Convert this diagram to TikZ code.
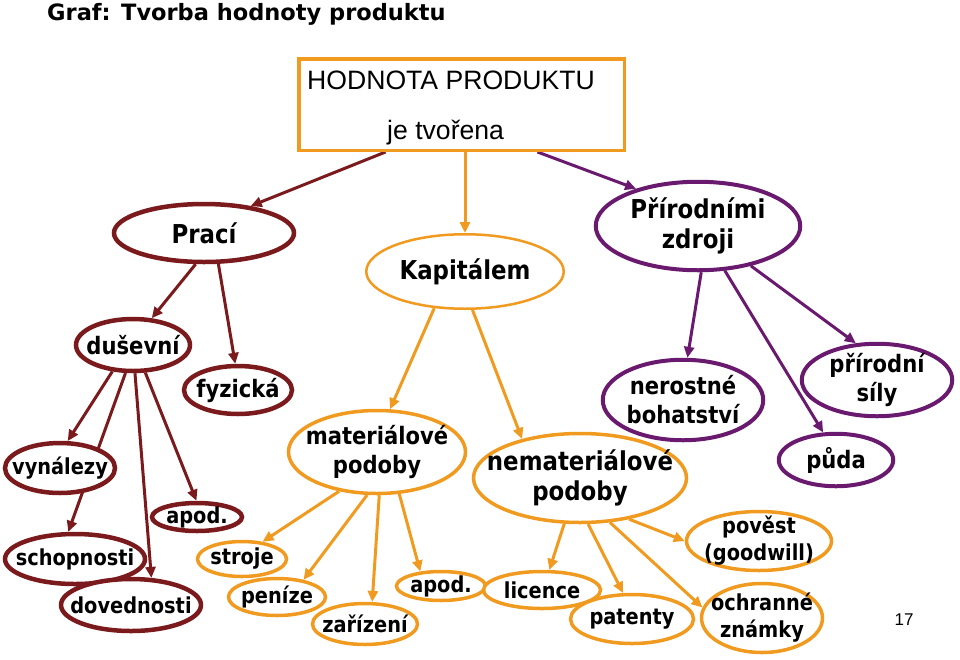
\documentclass[tikz,border=0pt]{standalone}
\usepackage{fontspec}
\setmainfont{DejaVu Sans}
\newfontfamily\nodefont{DejaVu Sans}[FakeStretch=0.88]
\newfontfamily\arialfont{Liberation Sans}
\usetikzlibrary{shapes.geometric,arrows.meta,backgrounds}
\definecolor{maroon}{RGB}{122,26,28}
\definecolor{oran}{RGB}{240,154,32}
\definecolor{purp}{RGB}{106,26,110}
\tikzset{
  ell/.style={ellipse, fill=white, inner sep=0pt},
  mar/.style={ell, draw=maroon, line width=4.5pt},
  ora/.style={ell, draw=oran, line width=3.5pt},
  pur/.style={ell, draw=purp, line width=4pt},
  lbl/.style={align=center, text=black, inner sep=0pt},
  fA/.style={lbl, font=\nodefont\bfseries\fontsize{26}{30}\selectfont},
  fB/.style={lbl, font=\nodefont\bfseries\fontsize{24}{29}\selectfont},
  fC/.style={lbl, font=\nodefont\bfseries\fontsize{22}{27}\selectfont},
  arr/.style={line width=3pt, -{Triangle[length=11pt,width=10pt]}},
  marr/.style={arr, draw=maroon, fill=maroon},
  oarr/.style={arr, draw=oran, fill=oran},
  parr/.style={arr, draw=purp, fill=purp}
}
\begin{document}
\begin{tikzpicture}[x=1pt,y=-1pt]
\useasboundingbox (0,0) rectangle (960,659);
% title
\node[anchor=base west, inner sep=0pt, font=\bfseries\fontsize{22.5}{27}\selectfont] (title) at (47,20) {Graf: Tvorba hodnoty produktu};
% box
\node[draw=oran, line width=3.5pt, fill=white, minimum width=325.5pt, minimum height=91.5pt, inner sep=0pt] (box) at (461.5,104.5) {};
\node[anchor=base west, inner sep=0pt, font=\arialfont\fontsize{26.6}{30}\selectfont] (boxt1) at (307,89) {HODNOTA PRODUKTU};
\node[anchor=base west, inner sep=0pt, font=\arialfont\fontsize{26.6}{30}\selectfont] (boxt2) at (387,139) {je tvořena};
% level 1
\node[mar, minimum width=180pt, minimum height=58pt, label={[fA]center:Prací}] (praci) at (204,233) {};
\node[ell, draw=oran, line width=2.5pt, minimum width=197.5pt, minimum height=74.5pt, label={[fA]center:Kapitálem}] (kap) at (465,271.5) {};
\node[pur, minimum width=204.5pt, minimum height=88.5pt, label={[fA]center:{Přírodními\\zdroji}}] (priz) at (698,226) {};
% Prací children
\node[mar, minimum width=114pt, minimum height=52pt, label={[fB]center:duševní}] (dus) at (133,345) {};
\node[mar, minimum width=108pt, minimum height=48pt, label={[fB]center:fyzická}] (fyz) at (238,390) {};
\node[mar, minimum width=110pt, minimum height=50pt, label={[fC]center:vynálezy}] (vyn) at (60,468) {};
\node[mar, minimum width=90pt, minimum height=28pt, label={[fC]center:apod.}] (apoda) at (197,517) {};
\node[mar, minimum width=140pt, minimum height=50pt, label={[fC]center:schopnosti}] (schop) at (75,559) {};
\node[mar, minimum width=140pt, minimum height=52pt, label={[fC]center:dovednosti}] (doved) at (131,605) {};
% Kapitálem children
\node[ora, minimum width=177pt, minimum height=83pt, label={[fB]center:{materiálové\\podoby}}] (mat) at (377,452) {};
\node[ora, minimum width=89pt, minimum height=35pt, label={[fC]center:stroje}] (stroje) at (242,559) {};
\node[ora, minimum width=97pt, minimum height=37pt, label={[fC]center:peníze}] (penize) at (277,597) {};
\node[ora, minimum width=105pt, minimum height=41pt, label={[fC]center:zařízení}] (zar) at (365,624) {};
\node[ora, minimum width=89pt, minimum height=29pt, label={[fC]center:apod.}] (apodb) at (441,586) {};
\node[ora, minimum width=213pt, minimum height=89pt, label={[fA]center:{nemateriálové\\podoby}}] (nemat) at (580,478) {};
\node[ora, minimum width=117pt, minimum height=37pt, label={[fC]center:licence}] (lic) at (542,590) {};
\node[ora, minimum width=123pt, minimum height=49pt, label={[fC]center:patenty}] (pat) at (632,619) {};
\node[ora, minimum width=145pt, minimum height=59pt, label={[fC]center:{pověst\\(goodwill)}}] (pov) at (759,541) {};
\node[ora, minimum width=121pt, minimum height=69pt, label={[fC]center:{ochranné\\známky}}] (ochr) at (762,618) {};
% Přírodními children
\node[pur, minimum width=160.5pt, minimum height=80.5pt, label={[fB]center:{nerostné\\bohatství}}] (ner) at (683,400) {};
\node[pur, minimum width=150.5pt, minimum height=72.5pt, label={[fB]center:{přírodní\\síly}}] (sily) at (877,380) {};
\node[pur, minimum width=114.5pt, minimum height=52.5pt, label={[fB]center:půda}] (puda) at (836,460) {};
% page number
\node[inner sep=0pt, font=\arialfont\fontsize{17}{20}\selectfont] (pnum) at (904,620) {17};
% connectors
\begin{scope}[on background layer]
\draw[marr] ([xshift=-76pt]box.south) -- (praci.30);
\draw[oarr] (box.south -| kap.north) -- (kap.north);
\draw[parr] ([xshift=76pt]box.south) -- (priz.149);
\draw[marr] (praci.-105) -- (dus.55);
\draw[marr] (praci.-65) -- (fyz.96);
\draw[marr] (dus.-128) -- (vyn.74);
\draw[marr] (dus.-105) -- (schop.104);
\draw[marr] (dus.-86) -- (doved.53);
\draw[marr] (dus.-66) -- (apoda.92);
\draw[oarr] (kap.-130) -- (mat.73);
\draw[oarr] (kap.-79) -- (nemat.146);
\draw[oarr] (mat.-134) -- (stroje.40);
\draw[oarr] (mat.-103) -- (penize.33);
\draw[oarr] (mat.-87) -- (zar.72);
\draw[oarr] (mat.-62) -- (apodb.145);
\draw[oarr] (nemat.-109) -- (lic.70);
\draw[oarr] (nemat.-80) -- (pat.109);
\draw[oarr] (nemat.-56) -- (ochr.170);
\draw[oarr] (nemat.-40) -- (pov.180);
\draw[parr] (priz.-86) -- (ner.84);
\draw[parr] (priz.-59) -- (puda.115);
\draw[parr] (priz.-37) -- (sily.120);
\end{scope}
\end{tikzpicture}
\end{document}
